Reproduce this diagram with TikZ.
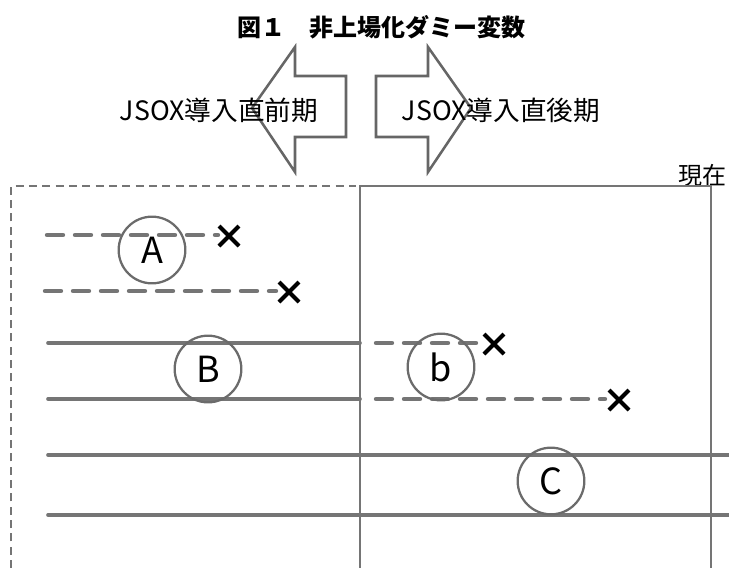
\documentclass[tikz,border=0pt]{standalone}
\usepackage{fontspec}
\setmainfont{Noto Sans CJK JP}
\begin{document}
\begin{tikzpicture}[x=0.75pt,y=-0.75pt,
  gline/.style={draw=black!54,line width=2.7pt,line cap=round},
  dline/.style={draw=black!54,line width=3.3pt,line cap=round,dash pattern=on 12pt off 9pt},
  rect/.style={draw=black!54,line width=1.6pt},
  rectd/.style={draw=black!54,line width=1.6pt,dash pattern=on 6pt off 4pt},
  arr/.style={draw=black!60,line width=1.9pt,fill=white},
  circ/.style={circle,draw=black!58,line width=1.7pt,minimum size=50pt,inner sep=0pt,font=\fontsize{27}{27}\selectfont},
  xmark/.style={draw=black,line width=3pt},
  lab/.style={font=\fontsize{20}{20}\selectfont,inner sep=0pt}]
\useasboundingbox (0,0) rectangle (729,568);
% title
\node[font=\fontsize{18}{18}\selectfont\bfseries] (title) at (381,27) {図１　非上場化ダミー変数};
% arrows
\draw[arr] (346,76) -- (295,76) -- (295,47) -- (252,108) -- (295,172) -- (295,137) -- (346,137) -- cycle;
\draw[arr] (376,76) -- (428,76) -- (428,47) -- (471,108) -- (428,172) -- (428,137) -- (376,137) -- cycle;
\node[lab] (before) at (219,110) {JSOX導入直前期};
\node[lab] (after) at (501,110) {JSOX導入直後期};
\node[lab,font=\fontsize{18}{18}\selectfont] (now) at (702,175) {現在};
% frames
\coordinate (dtl) at (11,186);
\coordinate (dbl) at (11,568);
\coordinate (dtr) at (356,186);
\draw[rectd] (dbl) -- (dtl) -- (dtr);
\coordinate (sbl) at (360,568);
\coordinate (stl) at (360,186);
\coordinate (str) at (711,186);
\coordinate (sbr) at (711,568);
\draw[rect] (sbl) -- (stl) -- (str) -- (sbr);
% A lines
\coordinate (a1s) at (47,235); \coordinate (a1e) at (218,235);
\coordinate (a2s) at (45,291); \coordinate (a2e) at (276,291);
\draw[dline] (a1s) -- (a1e);
\draw[dline] (a2s) -- (a2e);
% B lines
\coordinate (b1s) at (48,343); \coordinate (b1m) at (360,343);
\coordinate (b1d) at (376,343); \coordinate (b1e) at (482,343);
\coordinate (b2s) at (48,399); \coordinate (b2m) at (360,399);
\coordinate (b2d) at (376,399); \coordinate (b2e) at (605,399);
\draw[gline] (b1s) -- (b1m);
\draw[gline] (b2s) -- (b2m);
\draw[dline] (b1d) -- (b1e);
\draw[dline] (b2d) -- (b2e);
% C lines
\coordinate (c1s) at (48,455); \coordinate (c1e) at (729,455);
\coordinate (c2s) at (48,515); \coordinate (c2e) at (729,515);
\draw[gline] (c1s) -- (c1e);
\draw[gline] (c2s) -- (c2e);
% circles
\node[circ] (A) at (152,250) {A};
\node[circ] (B) at (208,369) {B};
\node[circ] (b) at (441,367) {b};
\node[circ] (C) at (551,481) {C};
% crosses
\foreach \n/\x/\y in {x1/229/236, x2/289/292, x3/494/344, x4/619/400}{
  \coordinate (\n) at (\x,\y);
  \draw[xmark] ([shift={(-10,-10)}]\n) -- ([shift={(10,10)}]\n);
  \draw[xmark] ([shift={(-10,10)}]\n) -- ([shift={(10,-10)}]\n);
}
\end{tikzpicture}
\end{document}
